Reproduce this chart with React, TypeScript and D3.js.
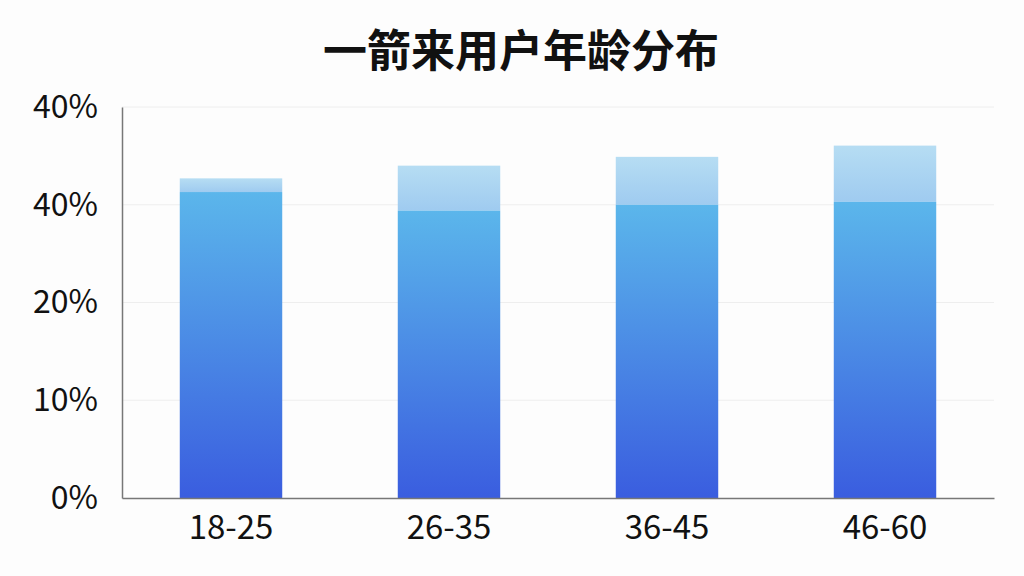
import React, { useEffect, useRef } from 'react';
import * as d3 from 'd3';

const title = '一箭来用户年龄分布';
const ageGroups = ['18-25', '26-35', '36-45', '46-60'];
const baseShare = [31.3, 29.4, 30.0, 30.3];
const extraShare = [1.4, 4.6, 4.9, 5.75];
const tickValues = [0, 10, 20, 30, 40];
const tickLabels = ['0%', '10%', '20%', '40%', '40%'];

const App: React.FC = () => {
  const svgRef = useRef<SVGSVGElement>(null);

  useEffect(() => {
    if (!svgRef.current) return;
    const svg = d3.select(svgRef.current);
    svg.selectAll('*').remove();

    const width = 1024;
    const height = 576;
    const margin = { top: 107, right: 30, bottom: 78, left: 122 };
    const chartWidth = width - margin.left - margin.right;
    const chartHeight = height - margin.top - margin.bottom;

    const fontFamily = '"Noto Sans CJK SC", "Noto Sans", sans-serif';

    svg.append('rect').attr('width', width).attr('height', height).attr('fill', '#fdfdfd');

    const defs = svg.append('defs');
    const baseGrad = defs.append('linearGradient')
      .attr('id', 'base-grad')
      .attr('x1', 0).attr('y1', 0).attr('x2', 0).attr('y2', 1);
    baseGrad.append('stop').attr('offset', '0%').attr('stop-color', '#5bb6eb');
    baseGrad.append('stop').attr('offset', '100%').attr('stop-color', '#3a5ddf');

    const extraGrad = defs.append('linearGradient')
      .attr('id', 'extra-grad')
      .attr('x1', 0).attr('y1', 0).attr('x2', 0).attr('y2', 1);
    extraGrad.append('stop').attr('offset', '0%').attr('stop-color', '#b6ddf3');
    extraGrad.append('stop').attr('offset', '100%').attr('stop-color', '#9fcbf0');

    const xScale = d3.scaleBand<string>()
      .domain(ageGroups)
      .range([0, chartWidth])
      .paddingInner(0.53)
      .paddingOuter(0.265);

    const yScale = d3.scaleLinear()
      .domain([0, 40])
      .range([chartHeight, 0]);

    const g = svg.append('g')
      .attr('transform', `translate(${margin.left},${margin.top})`);

    // gridlines
    g.selectAll('line.grid')
      .data(tickValues.slice(1))
      .enter()
      .append('line')
      .attr('class', 'grid')
      .attr('x1', 0)
      .attr('x2', chartWidth)
      .attr('y1', d => yScale(d))
      .attr('y2', d => yScale(d))
      .attr('stroke', '#eeeeee')
      .attr('stroke-width', 1);

    // bars
    ageGroups.forEach((grp, i) => {
      const x = xScale(grp) ?? 0;
      const bw = xScale.bandwidth();
      const b = baseShare[i];
      const e = extraShare[i];

      g.append('rect')
        .attr('x', x)
        .attr('y', yScale(b + e))
        .attr('width', bw)
        .attr('height', yScale(b) - yScale(b + e))
        .attr('fill', 'url(#extra-grad)');

      g.append('rect')
        .attr('x', x)
        .attr('y', yScale(b))
        .attr('width', bw)
        .attr('height', chartHeight - yScale(b))
        .attr('fill', 'url(#base-grad)');
    });

    // axes
    const yAxis = d3.axisLeft(yScale)
      .tickValues(tickValues)
      .tickSize(0)
      .tickPadding(24)
      .tickFormat((_, i) => tickLabels[i]);

    const yg = g.append('g').call(yAxis);
    yg.select('.domain').attr('stroke', '#777').attr('stroke-width', 1.5);
    yg.selectAll('text')
      .style('font-size', '32px')
      .style('font-family', fontFamily)
      .style('fill', '#111');

    const xAxis = d3.axisBottom(xScale).tickSize(0).tickPadding(18);
    const xg = g.append('g')
      .attr('transform', `translate(0,${chartHeight})`)
      .call(xAxis);
    xg.select('.domain').attr('stroke', '#777').attr('stroke-width', 1.5);
    xg.selectAll('text')
      .style('font-size', '33px')
      .style('font-family', fontFamily)
      .style('fill', '#111');

    svg.append('text')
      .attr('x', 521)
      .attr('y', 67)
      .attr('text-anchor', 'middle')
      .style('font-size', '44px')
      .style('font-weight', '700')
      .style('font-family', fontFamily)
      .style('fill', '#111')
      .text(title);
  }, []);

  return (
    <div style={{ position: 'absolute', left: 0, top: 0, width: 1024, height: 576 }}>
      <svg ref={svgRef} width="1024" height="576" style={{ display: 'block' }} />
    </div>
  );
};

export default App;
